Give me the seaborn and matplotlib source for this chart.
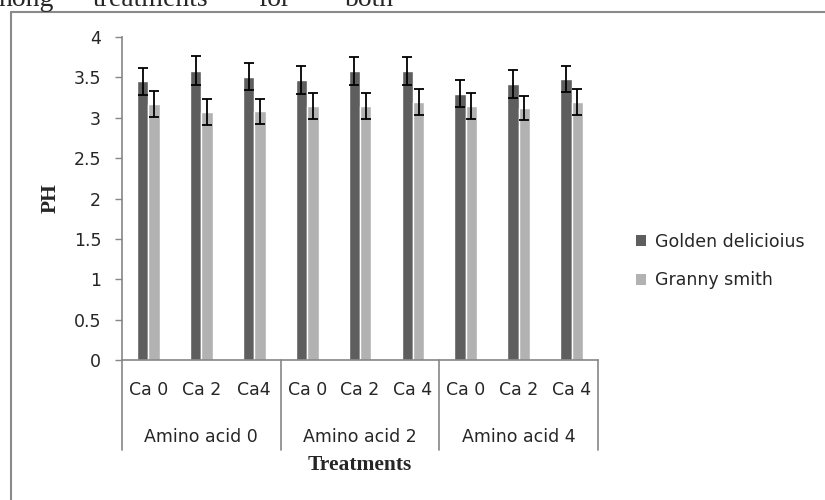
import pandas as pd
import numpy as np
import matplotlib
matplotlib.use('Agg')
import matplotlib.pyplot as plt
import matplotlib.transforms as mtransforms
from matplotlib.lines import Line2D
from matplotlib.patches import Patch
import seaborn as sns

#chart data
treatments = ['Ca 0', 'Ca 2', 'Ca4', 'Ca 0', 'Ca 2', 'Ca 4', 'Ca 0', 'Ca 2', 'Ca 4']
groups = ['Amino acid 0', 'Amino acid 2', 'Amino acid 4']
varieties = ['Golden delicioius', 'Granny smith']
golden = [3.45, 3.58, 3.51, 3.47, 3.58, 3.58, 3.30, 3.42, 3.48]
granny = [3.17, 3.07, 3.08, 3.15, 3.15, 3.19, 3.15, 3.12, 3.19]
golden_err = [0.17, 0.18, 0.17, 0.17, 0.17, 0.17, 0.17, 0.17, 0.16]
granny_err = [0.16, 0.16, 0.155, 0.16, 0.16, 0.16, 0.16, 0.15, 0.16]
colors = ['#5e5e5e', '#b2b2b2']

sns.set_style('white')
plt.rcParams['font.family'] = ['DejaVu Sans']

#long table for seaborn
df = pd.DataFrame({
    'pos': list(range(len(treatments))) * 2,
    'ph': golden + granny,
    'err': golden_err + granny_err,
    'variety': [varieties[0]] * len(golden) + [varieties[1]] * len(granny),
})

fig = plt.figure(figsize=(8.25, 5), dpi=100)
ax = fig.add_axes([0.1479, 0.28, 0.5770, 0.646])
sns.barplot(data=df, x='pos', y='ph', hue='variety', palette=colors,
            width=0.43, gap=0, saturation=1, ax=ax, legend=False)

#error bars placed on the bar centres
for container, v in zip(ax.containers, varieties):
    sub = df[df['variety'] == v]
    xs = [p.get_x() + p.get_width() / 2 for p in container.patches]
    ax.errorbar(xs, sub['ph'], yerr=sub['err'], fmt='none', ecolor='black',
                elinewidth=1.3, capsize=3.3, capthick=1.3)

ax.set_ylim(0, 4)
ax.set_xlim(-0.5, len(treatments) - 0.5)
ax.set_yticks(np.arange(0, 4.01, 0.5))
ax.set_yticklabels(['0', '0.5', '1', '1.5', '2', '2.5', '3', '3.5', '4'])
ax.set_xticks(range(len(treatments)))
ax.set_xticklabels(treatments)
ax.tick_params(axis='x', length=0, pad=15, labelsize=12.5, colors='#262626')
ax.tick_params(axis='y', length=5, width=1, color='#868686', direction='out',
               left=True, pad=10, labelsize=12.5, labelcolor='#262626')
for s in ['top', 'right']:
    ax.spines[s].set_visible(False)
for s in ['left', 'bottom']:
    ax.spines[s].set_color('#868686')
    ax.spines[s].set_linewidth(1.2)
ax.set_xlabel('')
ax.set_ylabel('')

#multi level category axis like excel
trans = mtransforms.blended_transform_factory(ax.transData, ax.transAxes)
for xd in [-0.5, 2.5, 5.5, 8.5]:
    ax.add_line(Line2D([xd, xd], [0, -0.279], transform=trans, color='#868686',
                       lw=1.2, clip_on=False))
for i, g in enumerate(groups):
    ax.text(3 * i + 1, -0.238, g, transform=trans, ha='center', va='center',
            fontsize=12.5, color='#262626')

ax.text(0.5, -0.325, 'Treatments', transform=ax.transAxes, ha='center', va='center',
        fontsize=15.5, fontweight='bold', family=['Liberation Serif'])
fig.text(51 / 825, 1 - 198 / 500, 'PH', rotation=90, ha='center', va='center',
         fontsize=15.5, fontweight='bold', family=['Liberation Serif'])

#legend on the right
handles = [Patch(facecolor=c, edgecolor='none') for c in colors]
fig.legend(handles, varieties, loc='center left', bbox_to_anchor=(620 / 825, 1 - 261 / 500),
           frameon=False, fontsize=12.5, handlelength=0.6, handleheight=0.6,
           handletextpad=0.5, labelspacing=1.2, labelcolor='#262626')

#frame of the chart area and the cut text above it
fig.add_artist(Line2D([11 / 825, 11 / 825], [0, 1 - 12 / 500], color='#8a8a8a', lw=1.5))
fig.add_artist(Line2D([11 / 825, 1], [1 - 12 / 500, 1 - 12 / 500], color='#8a8a8a', lw=1.5))
for word, xp in [('nong', -2), ('treatments', 93), ('for', 258), ('both', 345)]:
    fig.text(xp / 825, 1 - 6 / 500, word, ha='left', va='baseline', fontsize=20,
             family=['Liberation Serif'])

plt.savefig('out.png', dpi=100)
plt.close()
